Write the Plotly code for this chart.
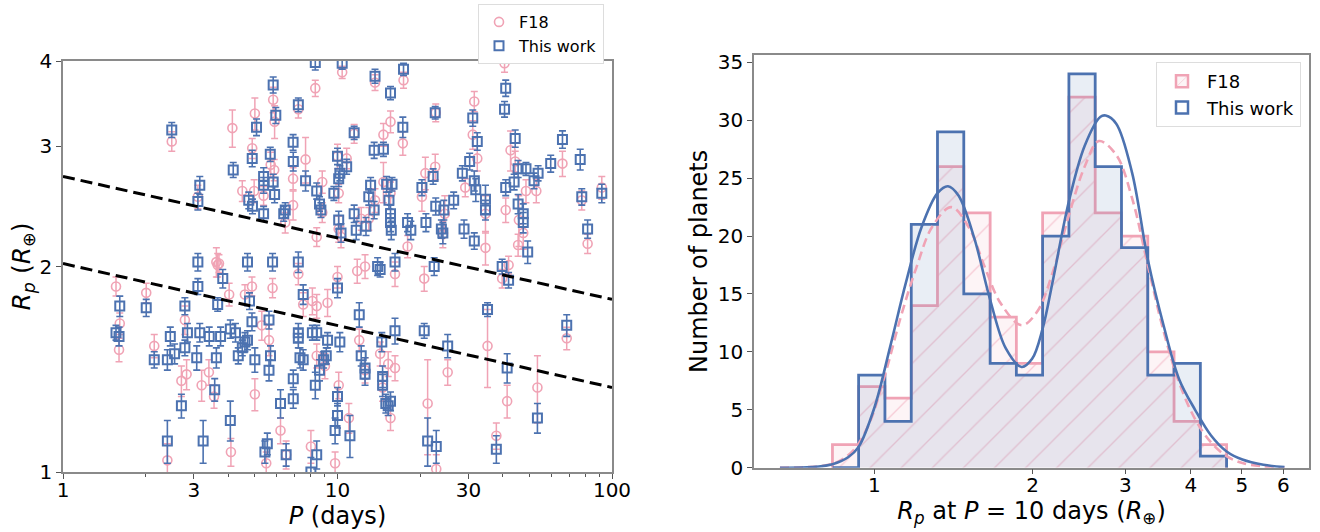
import numpy as np
import plotly.graph_objects as go

# ---------------- Left panel data: period (days), radius (R_earth), error ----------------
tw_P = [2.49, 3.15, 3.10, 4.17, 4.75, 4.89, 5.07, 4.90, 5.38, 5.38, 5.38, 5.69, 5.83, 5.96, 5.83, 5.90,
        6.37, 6.45, 6.89, 6.90, 7.20, 7.65, 8.30, 8.40, 8.60, 8.70, 9.70, 10.0, 10.1, 10.2, 10.4, 10.8,
        10.1, 10.3, 11.5, 11.5, 11.7, 12.7, 13.0, 13.2, 13.6, 13.7, 13.6, 14.7, 15.1, 15.4, 15.6, 15.6,
        15.7, 15.8, 15.6, 17.3, 17.4, 18.0, 18.5, 20.3, 21.0, 22.3, 22.7, 22.8, 23.9, 24.2, 24.4, 26.5,
        28.5, 28.9, 30.3, 31.1, 31.5, 31.9, 32.3, 34.6, 34.6, 31.5, 40.6, 41.0, 41.0, 44.4, 44.0, 45.5,
        45.5, 47.5, 47.5, 48.6, 49.3, 52.0, 53.8, 59.8, 66.0, 76.6, 77.6, 81.5, 91.8,
        3.10, 4.70, 5.80, 7.20, 1.61, 1.56, 1.60, 2.01, 2.15, 2.40, 2.40, 2.46, 2.55, 2.70, 2.78, 2.78,
        2.84, 3.07, 3.10, 3.15, 3.24, 3.41, 3.57, 3.62, 3.66, 3.75, 3.82, 4.07, 4.07, 4.25, 4.35, 4.50,
        4.60, 4.70, 4.78, 4.88, 5.00, 5.63, 5.63, 5.70, 5.44, 5.55, 6.20, 6.50, 6.90, 6.90, 7.20, 7.20,
        7.30, 7.50, 7.50, 8.10, 8.30, 8.40, 8.40, 8.60, 8.90, 9.10, 9.20, 9.80, 10.0, 10.0, 10.0, 10.2,
        11.1, 12.0, 12.2, 12.6, 12.6, 14.0, 14.3, 14.5, 14.6, 14.6, 15.0, 15.3, 15.6, 16.2, 16.2, 20.7,
        21.3, 22.9, 22.5, 25.2, 35.2, 37.9, 39.8, 42.0, 41.5, 53.5, 68.4, 8.0]
tw_R = [3.17, 2.63, 2.49, 2.77, 2.50, 2.88, 3.20, 2.45, 2.71, 2.63, 2.39, 2.92, 3.69, 3.33, 2.66, 2.55,
        2.39, 2.42, 3.04, 2.85, 3.45, 2.67, 3.98, 2.58, 2.47, 2.42, 2.56, 2.90, 2.69, 2.74, 3.97, 2.80,
        2.34, 2.24, 3.14, 2.39, 2.26, 2.29, 2.53, 2.63, 2.96, 3.80, 2.42, 2.97, 2.64, 2.50, 2.39, 2.32,
        2.26, 2.64, 3.59, 3.20, 3.89, 2.32, 2.26, 2.61, 2.32, 2.71, 3.36, 2.45, 2.27, 2.24, 2.42, 2.50,
        2.74, 2.27, 2.85, 3.30, 2.67, 2.59, 3.05, 2.51, 2.42, 2.18, 3.40, 3.65, 2.61, 3.08, 2.66, 2.78,
        2.47, 2.39, 2.32, 2.78, 2.10, 2.67, 2.74, 2.83, 3.07, 2.87, 2.53, 2.27, 2.56,
        2.03, 2.03, 2.03, 2.03, 1.75, 1.60, 1.58, 1.74, 1.46, 1.46, 1.11, 1.58, 1.49, 1.25, 1.75, 1.52,
        1.60, 1.47, 1.87, 1.60, 1.11, 1.58, 1.32, 1.47, 1.76, 1.58, 1.92, 1.62, 1.19, 1.60, 1.48, 1.52,
        1.55, 1.56, 1.78, 1.66, 1.46, 1.67, 1.41, 1.48, 1.07, 1.10, 1.26, 1.06, 1.37, 1.28, 1.60, 1.57,
        1.47, 1.46, 1.82, 1.60, 1.34, 1.06, 1.60, 1.41, 1.46, 1.48, 1.56, 1.15, 1.29, 1.21, 1.86, 1.55,
        1.13, 1.70, 1.48, 1.42, 1.39, 2.00, 1.98, 1.55, 1.38, 1.34, 1.26, 1.25, 1.27, 1.61, 2.03, 1.61,
        1.11, 1.09, 2.00, 1.53, 1.73, 1.08, 2.00, 1.91, 1.42, 1.20, 1.64, 1.00]
tw_E = [0.08, 0.08, 0.07, 0.07, 0.07, 0.08, 0.09, 0.06, 0.08, 0.07, 0.06, 0.07, 0.10, 0.09, 0.07, 0.07,
        0.06, 0.06, 0.08, 0.09, 0.08, 0.09, 0.10, 0.07, 0.06, 0.06, 0.06, 0.08, 0.07, 0.07, 0.08, 0.07,
        0.07, 0.07, 0.07, 0.07, 0.07, 0.07, 0.07, 0.07, 0.08, 0.09, 0.07, 0.07, 0.07, 0.07, 0.07, 0.07,
        0.07, 0.06, 0.08, 0.11, 0.08, 0.07, 0.07, 0.07, 0.07, 0.07, 0.07, 0.07, 0.07, 0.08, 0.08, 0.07,
        0.07, 0.07, 0.08, 0.09, 0.09, 0.10, 0.09, 0.12, 0.08, 0.06, 0.09, 0.10, 0.07, 0.09, 0.07, 0.08,
        0.08, 0.08, 0.08, 0.06, 0.08, 0.07, 0.07, 0.08, 0.09, 0.10, 0.07, 0.07, 0.08,
        0.06, 0.06, 0.06, 0.07, 0.06, 0.04, 0.05, 0.05, 0.04, 0.05, 0.08, 0.05, 0.05, 0.05, 0.05, 0.04,
        0.05, 0.06, 0.05, 0.05, 0.08, 0.05, 0.05, 0.05, 0.04, 0.05, 0.06, 0.05, 0.08, 0.05, 0.04, 0.04,
        0.05, 0.05, 0.05, 0.05, 0.06, 0.05, 0.05, 0.05, 0.04, 0.04, 0.06, 0.04, 0.04, 0.04, 0.05, 0.05,
        0.05, 0.05, 0.06, 0.04, 0.06, 0.05, 0.04, 0.05, 0.04, 0.04, 0.04, 0.05, 0.04, 0.05, 0.06, 0.05,
        0.08, 0.07, 0.05, 0.05, 0.05, 0.06, 0.05, 0.05, 0.05, 0.05, 0.04, 0.04, 0.04, 0.07, 0.06, 0.04,
        0.09, 0.06, 0.06, 0.06, 0.04, 0.05, 0.05, 0.05, 0.07, 0.06, 0.06, 0.05]

f18_P = [2.49, 3.10, 4.14, 4.50, 4.89, 5.00, 4.97, 5.38, 5.71, 5.88, 5.83, 5.90, 6.45, 6.89, 6.89, 7.20,
         7.65, 8.30, 8.80, 8.80, 8.40, 10.0, 10.1, 10.1, 10.3, 10.8, 10.4, 11.5, 12.2, 13.0, 13.7, 13.7,
         14.7, 14.7, 15.6, 15.6, 17.3, 17.4, 18.0, 20.3, 20.9, 22.7, 22.8, 24.2, 24.6, 29.2, 31.1, 31.5,
         32.3, 34.6, 34.6, 40.6, 41.0, 42.7, 44.4, 45.5, 45.8, 47.5, 48.6, 53.0, 66.0, 77.6, 81.5, 91.8,
         3.66, 1.56, 1.61, 1.60, 2.01, 2.15, 2.40, 2.70, 2.82, 2.78, 3.20, 3.40, 3.55, 3.62, 3.70, 4.03,
         4.09, 4.60, 4.88, 5.00, 5.30, 5.63, 5.80, 5.50, 6.20, 6.50, 7.20, 7.50, 8.10, 8.40, 8.40, 9.00,
         9.20, 8.00, 9.80, 10.0, 10.1, 11.0, 12.0, 12.6, 11.8, 12.6, 14.3, 14.6, 15.6, 15.3, 16.2, 16.2,
         20.7, 21.3, 22.9, 25.2, 35.2, 37.9, 39.8, 41.5, 53.5, 68.4, 42.0]
f18_R = [3.05, 2.53, 3.19, 2.58, 2.98, 3.35, 2.58, 2.54, 2.82, 2.77, 3.51, 3.26, 2.32, 2.69, 2.46, 3.40,
         2.87, 3.65, 2.66, 2.40, 2.21, 2.90, 2.56, 2.27, 2.21, 2.88, 3.85, 3.13, 2.35, 2.35, 3.72, 2.50,
         3.12, 2.66, 3.26, 2.56, 3.03, 3.75, 2.14, 2.53, 2.74, 2.80, 3.36, 2.23, 2.39, 2.61, 3.12, 3.49,
         2.88, 2.39, 2.13, 3.97, 2.42, 2.96, 2.85, 2.15, 2.34, 2.24, 2.58, 2.58, 2.83, 2.50, 2.16, 2.61,
         2.01, 1.87, 1.65, 1.51, 1.83, 1.53, 1.04, 1.36, 1.39, 1.67, 1.34, 1.40, 1.29, 2.03, 2.02, 1.82,
         1.07, 1.82, 1.87, 1.30, 1.64, 1.56, 1.86, 1.03, 1.15, 1.06, 1.95, 1.76, 1.78, 1.75, 1.48, 1.43,
         1.77, 1.09, 1.03, 1.93, 1.34, 1.20, 1.56, 1.41, 1.97, 2.00, 1.49, 1.33, 1.20, 1.44, 1.42, 1.95,
         1.92, 1.26, 1.01, 1.40, 1.53, 1.13, 1.92, 1.27, 1.33, 1.57, 2.01]
f18_E = [0.10, 0.10, 0.20, 0.09, 0.10, 0.18, 0.10, 0.08, 0.12, 0.10, 0.15, 0.18, 0.08, 0.10, 0.12, 0.10,
         0.22, 0.10, 0.10, 0.08, 0.07, 0.12, 0.08, 0.10, 0.08, 0.10, 0.08, 0.10, 0.09, 0.09, 0.10, 0.10,
         0.12, 0.18, 0.12, 0.10, 0.12, 0.10, 0.08, 0.12, 0.15, 0.12, 0.10, 0.10, 0.15, 0.08, 0.15, 0.12,
         0.12, 0.15, 0.12, 0.12, 0.10, 0.20, 0.10, 0.08, 0.20, 0.12, 0.10, 0.10, 0.12, 0.08, 0.07, 0.10,
         0.08, 0.06, 0.06, 0.06, 0.06, 0.06, 0.06, 0.07, 0.07, 0.08, 0.07, 0.06, 0.05, 0.10, 0.06, 0.07,
         0.05, 0.06, 0.06, 0.07, 0.08, 0.08, 0.06, 0.04, 0.05, 0.05, 0.07, 0.07, 0.08, 0.07, 0.06, 0.06,
         0.08, 0.06, 0.04, 0.07, 0.06, 0.06, 0.06, 0.06, 0.08, 0.08, 0.06, 0.06, 0.05, 0.06, 0.06, 0.08,
         0.08, 0.20, 0.05, 0.06, 0.20, 0.05, 0.06, 0.07, 0.15, 0.06, 0.06]

# dashed lines (endpoints at P = 1 and 100 days)
line_P = [1, 100]
upper_R = [2.71, 1.79]
lower_R = [2.02, 1.33]

# ---------------- Right panel data: histogram of R_p at P = 10 days ----------------
bin_edges = [0.832, 0.933, 1.047, 1.175, 1.318, 1.479, 1.660, 1.862, 2.089,
             2.344, 2.630, 2.951, 3.311, 3.715, 4.169, 4.677]
f18_counts = [2, 7, 6, 14, 26, 22, 13, 9, 22, 32, 22, 20, 10, 4, 2]
tw_counts = [0, 8, 4, 21, 29, 15, 9, 8, 20, 34, 26, 19, 8, 9, 1]

# fitted curves
curve_tw_R = [0.661, 0.759, 0.832, 0.891, 0.933, 1.000, 1.072, 1.148, 1.230, 1.318, 1.380, 1.445,
              1.549, 1.660, 1.778, 1.905, 1.995, 2.089, 2.188, 2.344, 2.512, 2.692, 2.754, 2.884,
              3.090, 3.311, 3.548, 3.802, 4.074, 4.365, 4.677, 5.012, 5.495, 6.026]
curve_tw_N = [0.0, 0.05, 0.3, 0.9, 1.8, 5.2, 10.5, 16.0, 20.8, 23.7, 24.3, 23.5,
              19.8, 14.5, 10.3, 8.7, 9.4, 12.0, 16.3, 23.0, 27.8, 30.3, 30.4, 29.7,
              25.5, 18.0, 12.3, 7.6, 5.0, 2.8, 1.4, 0.7, 0.25, 0.05]
curve_f18_R = [0.661, 0.741, 0.794, 0.851, 0.912, 0.977, 1.047, 1.122, 1.202, 1.288, 1.400, 1.514,
               1.622, 1.738, 1.905, 2.042, 2.188, 2.344, 2.512, 2.673, 2.884, 3.090, 3.311, 3.548,
               3.802, 4.074, 4.365, 4.677, 5.012, 5.495, 6.026]
curve_f18_N = [0.0, 0.05, 0.15, 0.5, 1.5, 3.8, 8.0, 13.0, 17.3, 20.8, 22.5, 20.7,
               17.3, 14.2, 12.3, 13.5, 17.0, 21.8, 26.0, 28.2, 27.0, 23.3, 17.5, 11.8,
               7.3, 4.2, 2.2, 1.0, 0.4, 0.12, 0.03]

BLUE = "#4c72b0"
PINK = "#f0a3b5"
FONT = "DejaVu Sans"

fig = go.Figure()

# ---- left scatter ----
fig.add_trace(go.Scatter(
    x=f18_P, y=f18_R, mode="markers", name="F18", legend="legend",
    marker=dict(symbol="circle-open", size=9, color=PINK, line=dict(width=1.6, color=PINK)),
    error_y=dict(type="data", array=f18_E, color=PINK, thickness=1.5, width=3.5),
    xaxis="x", yaxis="y"))
fig.add_trace(go.Scatter(
    x=tw_P, y=tw_R, mode="markers", name="This work", legend="legend",
    marker=dict(symbol="square-open", size=9, color=BLUE, line=dict(width=2, color=BLUE)),
    error_y=dict(type="data", array=tw_E, color=BLUE, thickness=1.6, width=3.5),
    xaxis="x", yaxis="y"))
for r in (upper_R, lower_R):
    fig.add_trace(go.Scatter(x=line_P, y=r, mode="lines", showlegend=False,
                             line=dict(color="black", width=3, dash="12px,6px"),
                             xaxis="x", yaxis="y", hoverinfo="skip"))

# ---- right histogram ----
def step_xy(edges, counts):
    xs = [edges[0]] + list(edges)
    ys = [0] + list(counts) + [0]
    return xs, ys

fx, fy = step_xy(bin_edges, f18_counts)
bx, by = step_xy(bin_edges, tw_counts)

HATCH = dict(shape="/", fgcolor="rgba(236,140,165,0.8)", bgcolor="rgba(242,167,184,0.13)",
             size=22, solidity=0.06)

fig.add_trace(go.Scatter(
    x=fx, y=fy, mode="lines", line_shape="hv", showlegend=False,
    line=dict(color=PINK, width=2.8), fill="tozeroy", fillcolor="rgba(242,167,184,0.13)",
    fillpattern=HATCH, xaxis="x2", yaxis="y2"))
fig.add_trace(go.Scatter(
    x=bx, y=by, mode="lines", line_shape="hv", showlegend=False,
    line=dict(color=BLUE, width=2.8), fill="tozeroy", fillcolor="rgba(76,114,176,0.12)",
    xaxis="x2", yaxis="y2"))
fig.add_trace(go.Scatter(
    x=curve_f18_R, y=curve_f18_N, mode="lines", showlegend=False, line_shape="spline",
    line=dict(color=PINK, width=2.6, dash="9px,5px"), xaxis="x2", yaxis="y2"))
fig.add_trace(go.Scatter(
    x=curve_tw_R, y=curve_tw_N, mode="lines", showlegend=False, line_shape="spline",
    line=dict(color=BLUE, width=2.6), xaxis="x2", yaxis="y2"))

# legend patches for the histogram
fig.add_trace(go.Bar(
    x=[None], y=[None], name="F18", legend="legend2", xaxis="x2", yaxis="y2",
    marker=dict(color="rgba(242,167,184,0.13)", line=dict(color=PINK, width=2.5),
                pattern=dict(shape="/", fgcolor="rgba(236,140,165,0.8)", size=10, solidity=0.1))))
fig.add_trace(go.Bar(
    x=[None], y=[None], name="This work", legend="legend2", xaxis="x2", yaxis="y2",
    marker=dict(color="rgba(255,255,255,0)", line=dict(color=BLUE, width=2.5))))

axis_common = dict(showline=True, mirror=True, linecolor="#8a8a8a", linewidth=1.5,
                   ticks="outside", tickcolor="#555555", ticklen=5, tickwidth=1.2,
                   showgrid=False, zeroline=False, automargin=False,
                   tickfont=dict(family=FONT, size=20, color="black"))

fig.update_layout(
    width=1320, height=532,
    margin=dict(l=0, r=0, t=0, b=0, autoexpand=False),
    paper_bgcolor="white", plot_bgcolor="white",
    font=dict(family=FONT, color="black"),
    bargap=0,
    xaxis=dict(type="log", domain=[63/1320, 612/1320], range=[0, 2],
               tickvals=[1, 3, 10, 30, 100], ticktext=["1", "3", "10", "30", "100"],
               minor=dict(tickvals=[2, 4, 5, 6, 7, 8, 9, 20, 40, 50, 60, 70, 80, 90],
                          ticks="outside", ticklen=3, tickcolor="#555555"),
               ticklabelstandoff=-6,
               title=dict(text="<i>P</i> (days)", font=dict(family=FONT, size=24), standoff=4),
               anchor="y", **axis_common),
    yaxis=dict(type="log", domain=[1-472/532, 1-61/532], range=[0, np.log10(4)],
               tickvals=[1, 2, 3, 4], ticktext=["1", "2", "3", "4"],
               title=dict(text="<i>R</i><sub><i>p</i></sub> (<i>R</i><sub>⊕</sub>)",
                          font=dict(family=FONT, size=25), standoff=2),
               anchor="x", **axis_common),
    xaxis2=dict(type="log", domain=[754/1320, 1309/1320], range=[np.log10(0.59), np.log10(6.71)],
                tickvals=[1, 2, 3, 4, 5, 6], ticktext=["1", "2", "3", "4", "5", "6"],
                ticklabelstandoff=-6,
                title=dict(text="<i>R</i><sub><i>p</i></sub> at <i>P</i> = 10 days (<i>R</i><sub>⊕</sub>)",
                           font=dict(family=FONT, size=24), standoff=4),
                anchor="y2", **axis_common),
    yaxis2=dict(domain=[1-467.7/532, 1-55/532], range=[0, 35.63],
                tickvals=[0, 5, 10, 15, 20, 25, 30, 35],
                title=dict(text="Number of planets", font=dict(family=FONT, size=24), standoff=3),
                anchor="x2", **axis_common),
    legend=dict(x=604/1320, y=1-4/532, xanchor="right", yanchor="top",
                bgcolor="white", bordercolor="#dddddd", borderwidth=1,
                font=dict(family=FONT, size=16), itemwidth=30),
    legend2=dict(x=1301/1320, y=1-62/532, xanchor="right", yanchor="top",
                 bgcolor="white", bordercolor="#dddddd", borderwidth=1,
                 font=dict(family=FONT, size=18), itemwidth=40),
    showlegend=True,
)

fig.write_html("out.html")
